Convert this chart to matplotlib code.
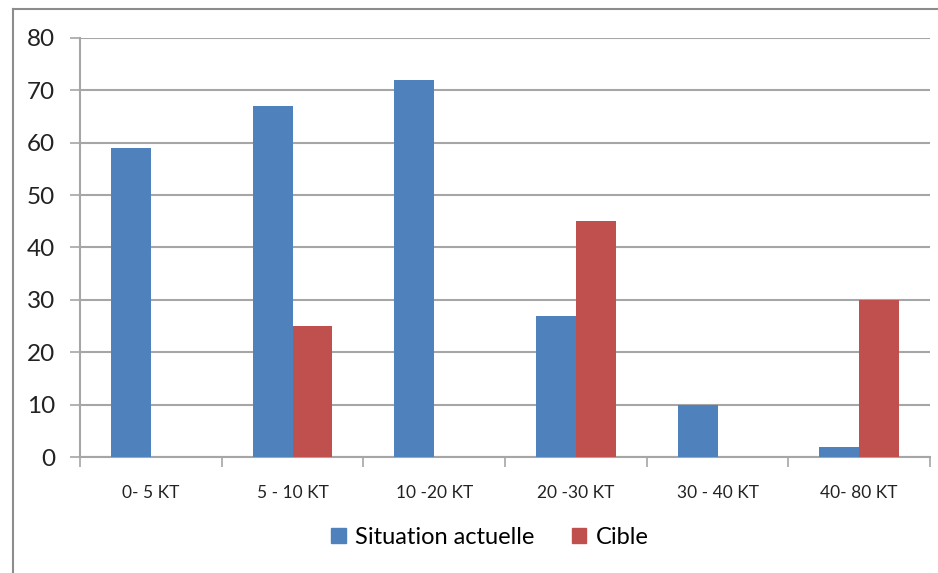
import matplotlib
matplotlib.use("Agg")
import matplotlib.pyplot as plt
import numpy as np
from matplotlib.lines import Line2D
from matplotlib.patches import Patch

categories = ["0- 5 KT", "5 - 10 KT", "10 -20 KT", "20 -30 KT", "30 - 40 KT", "40- 80 KT"]
situation = [59, 67, 72, 27, 10, 2]
cible = [0, 25, 0, 45, 0, 30]
series_names = ["Situation actuelle", "Cible"]
yticks = [0, 10, 20, 30, 40, 50, 60, 70, 80]

BLUE = "#4F81BD"
RED = "#C0504D"
GRID = "#A6A6A6"

plt.rcParams['font.family'] = ['Lato', 'DejaVu Sans']

fig = plt.figure(figsize=(9.38, 5.73), dpi=100)
ax = fig.add_axes([80/938, 1-457/573, (930-80)/938, (457-38)/573])

x = np.arange(len(categories))
w = 0.282
ax.bar(x - w/2, situation, width=w, color=BLUE, zorder=3)
ax.bar(x + w/2, cible, width=w, color=RED, zorder=3)

ax.set_xlim(-0.5, len(categories) - 0.5)
ax.set_ylim(0, 80)
ax.set_yticks(yticks)
ax.set_yticklabels([str(v) for v in yticks], fontsize=17.5, color="#222222")
ax.yaxis.grid(True, color=GRID, linewidth=1.5, zorder=0)
ax.tick_params(axis='y', length=7, width=1.2, color=GRID, pad=11)

ax.set_xticks(x)
ax.set_xticklabels(categories, fontsize=12.5, color="#222222")
ax.tick_params(axis='x', which='major', length=0, pad=20)
ax.set_xticks(np.arange(len(categories) + 1) - 0.5, minor=True)
ax.tick_params(axis='x', which='minor', length=7, width=1.2, color=GRID)

for s in ['top', 'right']:
    ax.spines[s].set_visible(False)
for s in ['left', 'bottom']:
    ax.spines[s].set_color(GRID)
    ax.spines[s].set_linewidth(1.5)

handles = [Patch(color=BLUE), Patch(color=RED)]
fig.legend(handles, series_names, loc='center', bbox_to_anchor=(490/938, 1-537/573),
           ncol=2, frameon=False, fontsize=17, handlelength=0.6, handleheight=0.6,
           handletextpad=0.4, columnspacing=1.6)

fig.add_artist(Line2D([13/938, 13/938], [0, 1-9/573], transform=fig.transFigure, color="#8C8C8C", linewidth=1.5))
fig.add_artist(Line2D([13/938, 1], [1-9/573, 1-9/573], transform=fig.transFigure, color="#8C8C8C", linewidth=1.5))

fig.savefig("out.png", dpi=100)
